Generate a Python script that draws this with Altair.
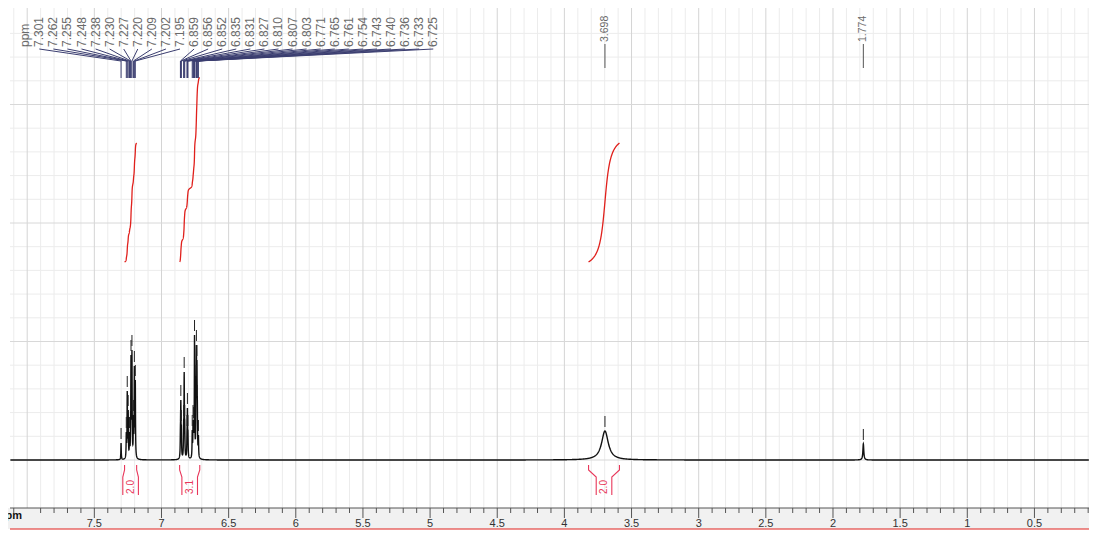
import altair as alt
import numpy as np
import pandas as pd

# ---------------- data ----------------
cluster_ppm = [7.301, 7.262, 7.255, 7.248, 7.238, 7.230, 7.227, 7.220, 7.209, 7.202, 7.195,
               6.859, 6.856, 6.852, 6.835, 6.831, 6.827, 6.810, 6.807, 6.803,
               6.771, 6.765, 6.761, 6.754, 6.743, 6.740, 6.736, 6.733, 6.725]
cluster_height = [17, 28, 69, 50, 28, 45, 105, 110, 45, 94, 80,
                  35, 60, 35, 40, 88, 40, 30, 52, 30,
                  30, 40, 38, 125, 80, 115, 100, 60, 25]
cluster_hwhm = 0.0017

single_ppm = [3.698, 1.774]
single_height = [29, 16]
single_hwhm = [0.03, 0.004]

int_from = [7.275, 6.865, 3.820]
int_to = [7.185, 6.715, 3.590]
int_value = [2.0, 3.1, 2.0]
int_text = ["2.0", "3.1", "2.0"]

major_ticks = [7.5, 7.0, 6.5, 6.0, 5.5, 5.0, 4.5, 4.0, 3.5, 3.0, 2.5, 2.0, 1.5, 1.0, 0.5]
minor_ticks = [round(0.1 * k, 1) for k in range(1, 82)]
hgrid_major = [0, 118.5, 237, 355.5]
hgrid_minor = [round(23.7 * k, 1) for k in range(1, 19)]

# ---------------- layout constants ----------------
W, H = 1079, 500
PX_PER_PPM = 134.3
PPM_LEFT = 8.128
PPM_RIGHT = PPM_LEFT - W / PX_PER_PPM
Y_LO, Y_HI = -48, 452
LABEL_START = PPM_LEFT - 29.3 / PX_PER_PPM
LABEL_STEP = 14.07 / PX_PER_PPM

# ---------------- spectrum from the peak list ----------------
P = np.array(cluster_ppm)
Hh = np.array(cluster_height, float)
K = 1.0 / (1.0 + ((P[:, None] - P[None, :]) / cluster_hwhm) ** 2)
amp = Hh.copy()
for _ in range(800):
    amp = np.clip(amp + 0.4 * (Hh - K @ amp), 0, None)


def spec(x):
    x = np.asarray(x, float)
    y = (amp[None, :] / (1 + ((x[:, None] - P[None, :]) / cluster_hwhm) ** 2)).sum(axis=1)
    for p, h, w in zip(single_ppm, single_height, single_hwhm):
        y = y + h / (1 + ((x - p) / w) ** 2)
    return y


xs = set(np.round(np.arange(0, 8140, 5) / 1000.0, 4))
for lo, hi, st in [(71500, 73400, 5), (66900, 68900, 5), (17400, 18100, 5), (34000, 40000, 20)]:
    xs |= set(np.round(np.arange(lo, hi, st) / 10000.0, 4))
xs = np.array(sorted([v for v in xs if PPM_RIGHT <= v <= PPM_LEFT], reverse=True))
ys = spec(xs)
spec_df = pd.DataFrame({"ppm": xs, "u": ys})

# integral curves
int_rows = []
for k, (a, b, v) in enumerate(zip(int_from, int_to, int_value)):
    m = (xs <= a) & (xs >= b)
    xx, yy = xs[m], ys[m]
    cum = np.concatenate([[0], np.cumsum(0.5 * (yy[1:] + yy[:-1]) * np.abs(np.diff(xx)))])
    cum = cum / cum[-1]
    for x_, c_ in zip(xx, cum):
        int_rows.append({"ppm": x_, "u": 198 + v * 59.5 * c_, "g": k})
int_df = pd.DataFrame(int_rows)

# integration brackets
half = 7.8 / PX_PER_PPM
br_rows = []
for k, (a, b) in enumerate(zip(int_from, int_to)):
    c = (a + b) / 2
    for side, lim, inner in [("L", a, c + half), ("R", b, c - half)]:
        for o, (x_, u_) in enumerate([(lim, -5), (lim, -10), (inner, -17), (inner, -35)]):
            br_rows.append({"ppm": x_, "u": u_, "g": f"{k}{side}", "o": o})
br_df = pd.DataFrame(br_rows)
intlab_df = pd.DataFrame({"ppm": [(a + b) / 2 for a, b in zip(int_from, int_to)],
                          "u": [-27] * 3, "t": int_text})

# peak markers
all_ppm = cluster_ppm + single_ppm
top = spec(all_ppm)
dash_df = pd.DataFrame({"ppm": all_ppm, "u": top + 4, "u2": top + 15})

# top labels (evenly spaced) and connectors
lab_ppm = [LABEL_START - i * LABEL_STEP for i in range(len(cluster_ppm))]
lab_df = pd.DataFrame({"ppm": lab_ppm, "u": [460 - 47] * len(lab_ppm),
                       "t": [f"{p:.3f}" for p in cluster_ppm]})
hdr_df = pd.DataFrame({"ppm": [LABEL_START + LABEL_STEP], "u": [460 - 47], "t": ["ppm"]})
con_rows = []
for i, (lp, pp) in enumerate(zip(lab_ppm, cluster_ppm)):
    for o, (x_, u_) in enumerate([(lp, 460 - 49), (pp, 460 - 61), (pp, 460 - 78)]):
        con_rows.append({"ppm": x_, "u": u_, "g": i, "o": o})
con_df = pd.DataFrame(con_rows)
slab_df = pd.DataFrame({"ppm": single_ppm, "u": [460 - 42] * 2, "t": [f"{p:.3f}" for p in single_ppm]})
scon_df = pd.DataFrame({"ppm": single_ppm * 2, "u": [460 - 44] * 2 + [460 - 68] * 2, "g": [0, 1, 0, 1]})

is_major = [any(abs(t - m) < 1e-6 for m in major_ticks + [8.0]) for t in minor_ticks]
minor_df = pd.DataFrame({"ppm": [t for t, mj in zip(minor_ticks, is_major) if not mj]})
vgrid_major_df = pd.DataFrame({"ppm": [t for t, mj in zip(minor_ticks, is_major) if mj]})
major_df = pd.DataFrame({"ppm": major_ticks, "t": [f"{m:g}" for m in major_ticks]})
hmaj_df = pd.DataFrame({"u": hgrid_major})
hmin_df = pd.DataFrame({"u": [v for v in hgrid_minor
                              if all(abs(v - m) > 3 for m in hgrid_major) and v < Y_HI]})

# ---------------- chart ----------------
xscale = alt.Scale(domain=[PPM_RIGHT, PPM_LEFT], reverse=True, nice=False, zero=False)
yscale = alt.Scale(domain=[Y_LO, Y_HI], nice=False, zero=False)
X = lambda: alt.X("ppm:Q", scale=xscale, axis=None)
Y = lambda: alt.Y("u:Q", scale=yscale, axis=None)
one = pd.DataFrame({"a": [0]})

vgrid_min = alt.Chart(minor_df).mark_rule(color="#ececec", strokeWidth=1).encode(
    x=X(), y=alt.value(0), y2=alt.value(H))
vgrid_maj = alt.Chart(vgrid_major_df).mark_rule(color="#d4d4d4", strokeWidth=1).encode(
    x=X(), y=alt.value(0), y2=alt.value(H))
hgrid_min = alt.Chart(hmin_df).mark_rule(color="#ececec", strokeWidth=1).encode(
    y=Y(), x=alt.value(0), x2=alt.value(W))
hgrid_maj = alt.Chart(hmaj_df).mark_rule(color="#d8d8d8", strokeWidth=1).encode(
    y=Y(), x=alt.value(0), x2=alt.value(W))

spectrum = alt.Chart(spec_df).mark_line(color="#111111", strokeWidth=1.4).encode(
    x=X(), y=Y(), order="ppm:Q")

integ = alt.Chart(int_df).mark_line(color="#e0201c", strokeWidth=1.3).encode(
    x=X(), y=Y(), detail="g:N")
brackets = alt.Chart(br_df).mark_line(color="#e8375a", strokeWidth=1.1).encode(
    x=X(), y=Y(), detail="g:N", order="o:Q")
intlab = alt.Chart(intlab_df).mark_text(color="#e8375a", fontSize=10, angle=270, align="center",
                                        baseline="middle", font="Liberation Sans").encode(
    x=X(), y=Y(), text="t:N")
dashes = alt.Chart(dash_df).mark_rule(color="#222222", strokeWidth=1).encode(
    x=X(), y=Y(), y2="u2:Q")
connectors = alt.Chart(con_df).mark_line(color="#3b3e70", strokeWidth=1).encode(
    x=X(), y=Y(), detail="g:N", order="o:Q")
labels = alt.Chart(lab_df).mark_text(color="#6a6a6a", fontSize=12, angle=270, align="left",
                                     baseline="middle", font="Liberation Sans").encode(
    x=X(), y=Y(), text="t:N")
hdr = alt.Chart(hdr_df).mark_text(color="#6a6a6a", fontSize=12, angle=270, align="left",
                                  baseline="middle", font="Liberation Sans").encode(
    x=X(), y=Y(), text="t:N")
slabels = alt.Chart(slab_df).mark_text(color="#6a6a6a", fontSize=10.5, angle=270, align="left",
                                       baseline="middle", font="Liberation Sans").encode(
    x=X(), y=Y(), text="t:N")
scon = alt.Chart(scon_df).mark_line(color="#555555", strokeWidth=1).encode(
    x=X(), y=Y(), detail="g:N")

band = alt.Chart(one).mark_rect(color="#f1f1f1").encode(
    x=alt.value(-2), x2=alt.value(W), y=alt.value(H), y2=alt.value(H + 21))
axis_line = alt.Chart(one).mark_rule(color="#555555", strokeWidth=1).encode(
    x=alt.value(0), x2=alt.value(W), y=alt.value(H))
red_line = alt.Chart(one).mark_rule(color="#e0201c", strokeWidth=1).encode(
    x=alt.value(0), x2=alt.value(W), y=alt.value(H + 21))
minor_ticks_m = alt.Chart(minor_df).mark_rule(color="#555555", strokeWidth=1).encode(
    x=X(), y=alt.value(H), y2=alt.value(H + 5))
major_ticks_m = alt.Chart(major_df).mark_rule(color="#555555", strokeWidth=1).encode(
    x=X(), y=alt.value(H), y2=alt.value(H + 10))
ticklabels = alt.Chart(major_df).mark_text(color="#333333", fontSize=11, baseline="middle",
                                           font="Liberation Sans").encode(
    x=X(), y=alt.value(H + 16), text="t:N")
axtitle = alt.Chart(one).mark_text(text="ppm", color="#111111", fontSize=11, fontWeight="bold",
                                   align="right", baseline="middle",
                                   font="Liberation Sans").encode(
    x=alt.value(12), y=alt.value(H + 8))

chart = alt.layer(
    vgrid_min, hgrid_min, vgrid_maj, hgrid_maj,
    spectrum, band, integ, brackets, intlab, dashes, connectors, labels, hdr, slabels, scon,
    axis_line, red_line, minor_ticks_m, major_ticks_m, ticklabels, axtitle
).properties(
    width=W, height=H,
    autosize=alt.AutoSizeParams(type="none"),
    padding={"left": 2, "top": 0, "right": 0, "bottom": 22},
).configure_view(strokeWidth=0)

chart.save("out.html", embed_options={"renderer": "svg", "actions": False})
